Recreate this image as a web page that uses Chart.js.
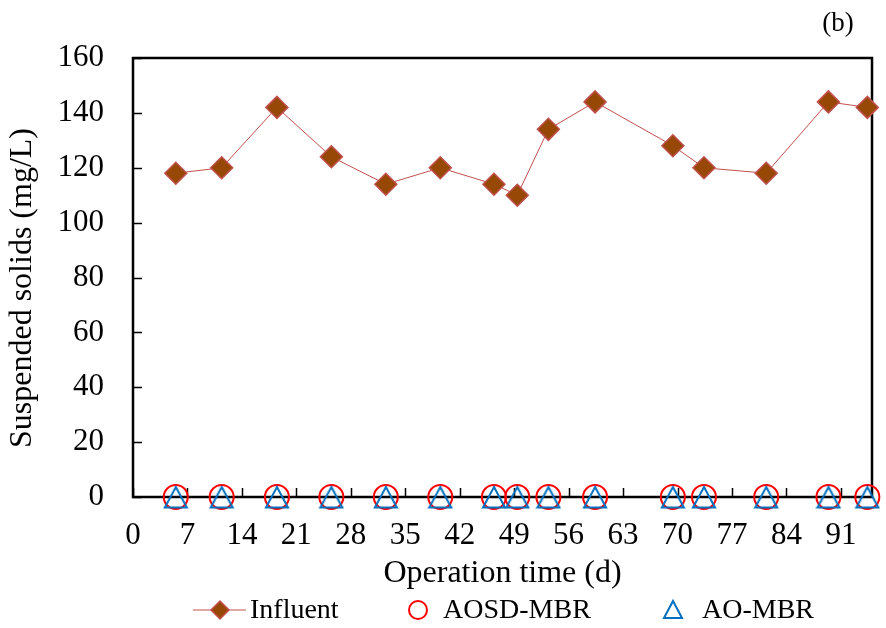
<!DOCTYPE html>
<html>
<head>
<meta charset="utf-8">
<script src="https://cdn.jsdelivr.net/npm/chart.js@4/dist/chart.umd.min.js"></script>
<style>
  html, body { margin: 0; padding: 0; background: #fff; }
  #box { width: 886px; height: 628px; }
</style>
</head>
<body>
<div id="box"><canvas id="myChart"></canvas></div>
<script>
/** Data */
const days = [5.5, 11.4, 18.5, 25.5, 32.5, 39.5, 46.4, 49.4, 53.4, 59.4, 69.4, 73.4, 81.4, 89.4, 94.4];
const influent = [118, 120, 142, 124, 114, 120, 114, 110, 134, 144, 128, 120, 118, 144, 142];
const aosdMbr = [0, 0, 0, 0, 0, 0, 0, 0, 0, 0, 0, 0, 0, 0, 0];
const aoMbr = [0, 0, 0, 0, 0, 0, 0, 0, 0, 0, 0, 0, 0, 0, 0];
const seriesNames = ["Influent", "AOSD-MBR", "AO-MBR"];
const xTitle = "Operation time (d)";
const yTitle = "Suspended solids (mg/L)";
const panelTag = "(b)";

const FONT = "'Liberation Serif', 'Times New Roman', serif";

function toPoints(xs, ys) {
  return xs.map((x, i) => ({ x: x, y: ys[i] }));
}

// open triangle marker, centred on its bounding box like the Excel one
const triMark = document.createElement("canvas");
triMark.width = 26;
triMark.height = 26;
(function () {
  const c = triMark.getContext("2d");
  c.strokeStyle = "#0070C0";
  c.lineWidth = 2;
  c.beginPath();
  c.moveTo(13, 3);
  c.lineTo(24, 23.5);
  c.lineTo(2, 23.5);
  c.closePath();
  c.stroke();
})();

/** Frame, inward ticks, legend, y title and panel tag */
const framePlugin = {
  id: "frame",
  beforeDatasetsDraw(chart) {
    const { ctx, chartArea: a, scales } = chart;
    ctx.save();
    ctx.strokeStyle = "#000";
    ctx.lineWidth = 1.5;
    ctx.beginPath();
    scales.x.ticks.forEach((t) => {
      const px = Math.round(scales.x.getPixelForValue(t.value)) + 0.5;
      ctx.moveTo(px, a.bottom);
      ctx.lineTo(px, a.bottom - 9);
    });
    scales.y.ticks.forEach((t) => {
      const py = Math.round(scales.y.getPixelForValue(t.value)) + 0.5;
      ctx.moveTo(a.left, py);
      ctx.lineTo(a.left + 9, py);
    });
    ctx.stroke();
    ctx.lineWidth = 2.5;
    ctx.strokeRect(a.left, a.top, a.right - a.left, a.bottom - a.top);
    ctx.restore();
  },
  afterDraw(chart) {
    const ctx = chart.ctx;
    const ds = chart.data.datasets;
    const y = 610;
    ctx.save();
    ctx.fillStyle = "#000";
    ctx.textBaseline = "middle";

    // y axis title (sits a bit below the plot centre in the original)
    ctx.save();
    ctx.font = "32px " + FONT;
    ctx.textAlign = "center";
    ctx.translate(23, 288);
    ctx.rotate(-Math.PI / 2);
    ctx.fillText(yTitle, 0, 0);
    ctx.restore();

    ctx.font = "28px " + FONT;

    // Influent: line with diamond
    ctx.strokeStyle = ds[0].borderColor;
    ctx.lineWidth = 1;
    ctx.beginPath();
    ctx.moveTo(193, y);
    ctx.lineTo(246, y);
    ctx.stroke();
    ctx.lineWidth = 1.5;
    ctx.fillStyle = ds[0].pointBackgroundColor;
    ctx.strokeStyle = ds[0].pointBorderColor;
    ctx.beginPath();
    ctx.moveTo(220, y - 9); ctx.lineTo(229, y); ctx.lineTo(220, y + 9); ctx.lineTo(211, y);
    ctx.closePath(); ctx.fill(); ctx.stroke();
    ctx.fillStyle = "#000";
    ctx.fillText(ds[0].label, 250, y + 1);

    // AOSD-MBR: open circle
    ctx.strokeStyle = ds[1].pointBorderColor;
    ctx.lineWidth = 2;
    ctx.beginPath();
    ctx.arc(418, y, 9, 0, Math.PI * 2);
    ctx.stroke();
    ctx.fillText(ds[1].label, 443, y + 1);

    // AO-MBR: open triangle
    ctx.strokeStyle = "#0070C0";
    ctx.beginPath();
    ctx.moveTo(673, y - 9); ctx.lineTo(682, y + 8); ctx.lineTo(664, y + 8);
    ctx.closePath(); ctx.stroke();
    ctx.fillText(ds[2].label, 702, y + 1);

    // panel tag
    ctx.font = "27px " + FONT;
    ctx.textAlign = "center";
    ctx.fillText(panelTag, 838, 24);
    ctx.restore();
  }
};

const ctx = document.getElementById("myChart").getContext("2d");

const chart = new Chart(ctx, {
  type: "scatter",
  data: {
    datasets: [
      {
        label: seriesNames[0],
        data: toPoints(days, influent),
        showLine: true,
        borderColor: "#C0504D",
        borderWidth: 1,
        pointStyle: "rectRot",
        pointRadius: 11,
        pointHoverRadius: 11,
        pointBackgroundColor: "#974806",
        pointBorderColor: "#C0504D",
        pointBorderWidth: 1.5,
        clip: false,
        order: 3,
      },
      {
        label: seriesNames[1],
        data: toPoints(days, aosdMbr),
        showLine: false,
        pointStyle: "circle",
        pointRadius: 12,
        pointHoverRadius: 12,
        pointBackgroundColor: "rgba(0,0,0,0)",
        pointBorderColor: "#FF0000",
        pointBorderWidth: 2,
        clip: false,
        order: 2,
      },
      {
        label: seriesNames[2],
        data: toPoints(days, aoMbr),
        showLine: false,
        pointStyle: triMark,
        pointRadius: 12,
        pointHoverRadius: 12,
        clip: false,
        order: 1,
      },
    ],
  },
  options: {
    responsive: true,
    maintainAspectRatio: false,
    animation: false,
    events: [],
    layout: { padding: { top: 58, right: 9, left: 0, bottom: 0 } },
    plugins: {
      legend: { display: false },
      tooltip: { enabled: false },
    },
    scales: {
      x: {
        type: "linear",
        min: 0,
        max: 95,
        afterFit(scale) { scale.height = 131; },
        grid: { display: false, drawTicks: false },
        border: { display: false },
        ticks: {
          stepSize: 7,
          includeBounds: false,
          autoSkip: false,
          maxRotation: 0,
          padding: 20,
          color: "#000",
          font: { family: FONT, size: 31 },
        },
        title: {
          display: true,
          text: xTitle,
          color: "#000",
          font: { family: FONT, size: 32 },
          padding: { top: 0, bottom: 35 },
        },
      },
      y: {
        min: 0,
        max: 160,
        afterFit(scale) { scale.width = 133; },
        grid: { display: false, drawTicks: false },
        border: { display: false },
        ticks: {
          stepSize: 20,
          padding: 29,
          color: "#000",
          font: { family: FONT, size: 31 },
        },
        title: { display: false },
      },
    },
  },
  plugins: [framePlugin],
});
</script>
</body>
</html>
